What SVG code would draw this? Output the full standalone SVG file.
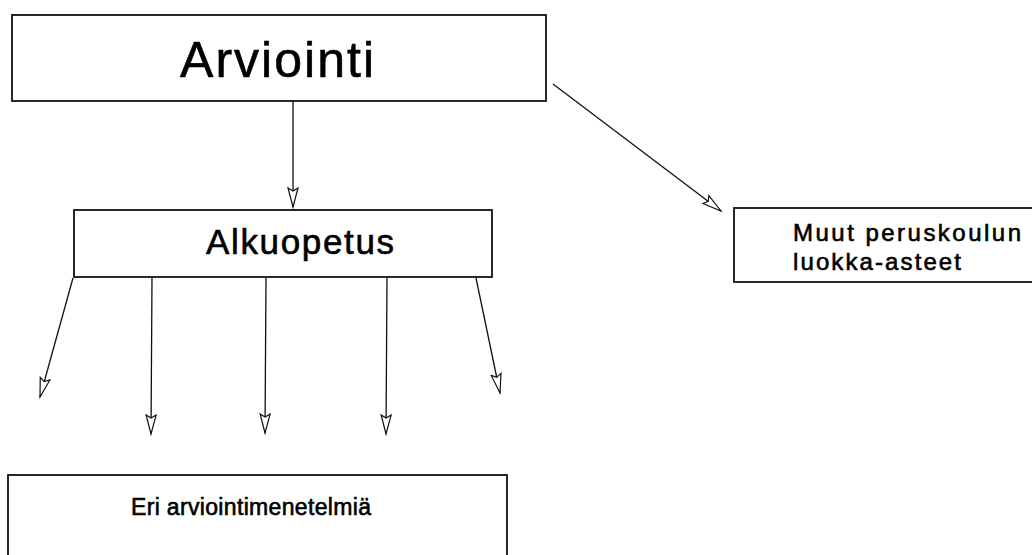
<svg xmlns="http://www.w3.org/2000/svg" width="1032" height="555" viewBox="0 0 1032 555">
<style>
.box{fill:#fff;stroke:#111;stroke-width:1.8}
.lbl{font-family:"Liberation Sans",Arial,sans-serif;fill:#000;stroke:#000;stroke-width:0.6}
.con{stroke:#111;stroke-width:1.3;fill:none;marker-end:url(#ah)}
</style>
<defs>
<marker id="ah" markerUnits="userSpaceOnUse" markerWidth="22" markerHeight="12" refX="20" refY="6" orient="auto" viewBox="0 0 22 12">
<path d="M1,1 L20,6 L1,11 L4,6 z" fill="#fff" stroke="#111" stroke-width="1.2"/>
</marker>
</defs>
<rect width="1032" height="555" fill="#fff"/>
<g id="connectors">
<line class="con" x1="293" y1="101" x2="293" y2="207"/>
<line class="con" x1="553" y1="84" x2="721" y2="211"/>
<line class="con" x1="73" y1="278" x2="40" y2="397"/>
<line class="con" x1="152" y1="278" x2="151" y2="434"/>
<line class="con" x1="266" y1="278" x2="265" y2="433"/>
<line class="con" x1="387" y1="278" x2="386" y2="434"/>
<line class="con" x1="476" y1="278" x2="500" y2="393"/>
</g>
<g id="arviointi">
<rect class="box" x="12" y="15" width="534" height="86"/>
<text class="lbl" x="180" y="77" font-size="50" textLength="194">Arviointi</text>
</g>
<g id="alkuopetus">
<rect class="box" x="74" y="210" width="418" height="67"/>
<text class="lbl" x="206" y="254" font-size="35" textLength="188">Alkuopetus</text>
</g>
<g id="muut">
<rect class="box" x="734" y="208" width="305" height="74"/>
<text class="lbl" x="793" y="241" font-size="24" textLength="228">Muut peruskoulun</text>
<text class="lbl" x="793" y="270" font-size="24" textLength="168">luokka-asteet</text>
</g>
<g id="menetelmat">
<rect class="box" x="8" y="475" width="499" height="100"/>
<text class="lbl" x="131" y="515" font-size="23" textLength="240">Eri arviointimenetelmiä</text>
</g>
</svg>
